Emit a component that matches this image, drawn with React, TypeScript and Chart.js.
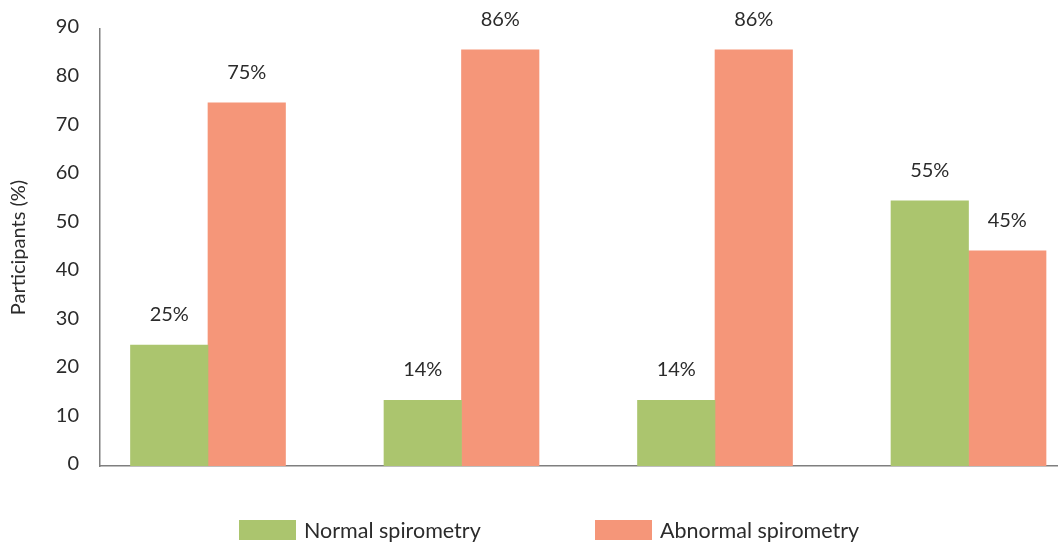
import React, { useEffect, useRef } from 'react';
import { Chart, registerables } from 'chart.js';

Chart.register(...registerables);

// ---- Data ----
const categories = ['Group 1', 'Group 2', 'Group 3', 'Group 4'];
const seriesNames = ['Normal spirometry', 'Abnormal spirometry'];
const normalValues = [24.9, 13.5, 13.5, 54.6];
const abnormalValues = [74.8, 85.7, 85.7, 44.3];
const normalLabels = ['25%', '14%', '14%', '55%'];
const abnormalLabels = ['75%', '86%', '86%', '45%'];
const yAxisTitle = 'Participants (%)';
const yMin = 0;
const yMax = 90;
const yStep = 10;

const seriesColors = ['#ABC56E', '#F59679'];
const FONT = 'Lato, "Noto Sans", sans-serif';
const TEXT_COLOR = '#2b2b2b';
const AXIS_COLOR = '#7f7f7f';

const valueLabelPlugin = {
  id: 'valueLabels',
  afterDatasetsDraw(chart: any) {
    const ctx = chart.ctx;
    ctx.save();
    ctx.font = `20px ${FONT}`;
    ctx.fillStyle = TEXT_COLOR;
    ctx.textAlign = 'center';
    ctx.textBaseline = 'alphabetic';
    chart.data.datasets.forEach((ds: any, i: number) => {
      const meta = chart.getDatasetMeta(i);
      meta.data.forEach((el: any, j: number) => {
        const txt = ds.valueLabels ? ds.valueLabels[j] : '';
        ctx.fillText(txt, el.x, el.y - 24);
      });
    });
    ctx.restore();
  },
};

const legendPlugin = {
  id: 'customLegend',
  afterDraw(chart: any) {
    const ctx = chart.ctx;
    const startXs = [239, 595];
    const boxW = 57;
    const boxH = 20;
    const boxTop = 520;
    ctx.save();
    ctx.font = `21.5px ${FONT}`;
    ctx.textAlign = 'left';
    ctx.textBaseline = 'middle';
    chart.data.datasets.forEach((ds: any, i: number) => {
      const x = startXs[i];
      ctx.fillStyle = ds.backgroundColor;
      ctx.fillRect(x, boxTop, boxW, boxH);
      ctx.fillStyle = TEXT_COLOR;
      ctx.fillText(ds.label, x + boxW + 8, boxTop + boxH / 2 + 1);
    });
    ctx.restore();
  },
};

export default function App() {
  const canvasRef = useRef<HTMLCanvasElement | null>(null);

  useEffect(() => {
    if (!canvasRef.current) return;
    const toPoints = (vals: number[]) => vals.map((v, i) => ({ x: i, y: v }));
    const chart = new Chart(canvasRef.current, {
      type: 'bar',
      data: {
        labels: categories,
        datasets: [
          {
            label: seriesNames[0],
            data: toPoints(normalValues) as any,
            backgroundColor: seriesColors[0],
            borderWidth: 0,
            barThickness: 77.5,
            valueLabels: normalLabels,
          } as any,
          {
            label: seriesNames[1],
            data: toPoints(abnormalValues) as any,
            backgroundColor: seriesColors[1],
            borderWidth: 0,
            barThickness: 77.5,
            valueLabels: abnormalLabels,
          } as any,
        ],
      },
      options: {
        responsive: false,
        animation: false,
        devicePixelRatio: 1,
        layout: { padding: { top: 29, right: 0, bottom: 81, left: 0 } },
        plugins: {
          legend: { display: false },
          tooltip: { enabled: false },
          title: { display: false },
        },
        scales: {
          x: {
            type: 'linear',
            bounds: 'data',
            offset: false,
            min: -0.426,
            max: 3.353,
            ticks: { display: false, stepSize: 1, includeBounds: false },
            grid: { display: false, drawTicks: false, offset: false },
            border: { display: true, color: AXIS_COLOR, width: 1.5 },
            afterFit: (s: any) => {
              s.height = 0;
            },
          },
          y: {
            min: yMin,
            max: yMax,
            ticks: {
              stepSize: yStep,
              padding: 21,
              labelOffset: -2,
              color: TEXT_COLOR,
              font: { family: FONT, size: 20 },
            },
            grid: { display: false, drawTicks: false },
            border: { display: true, color: AXIS_COLOR, width: 1.5 },
            title: {
              display: true,
              text: yAxisTitle,
              color: TEXT_COLOR,
              font: { family: FONT, size: 20 },
              padding: { top: 7, bottom: 0 },
            },
            afterFit: (s: any) => {
              s.width = 100;
              s.paddingTop = 0;
              s.paddingBottom = 0;
            },
          },
        },
      } as any,
      plugins: [valueLabelPlugin, legendPlugin],
    });
    return () => chart.destroy();
  }, []);

  return (
    <div style={{ position: 'absolute', left: 0, top: 0, width: 1058, height: 547, background: '#fff' }}>
      <canvas ref={canvasRef} width={1058} height={547} style={{ display: 'block' }} />
    </div>
  );
}
